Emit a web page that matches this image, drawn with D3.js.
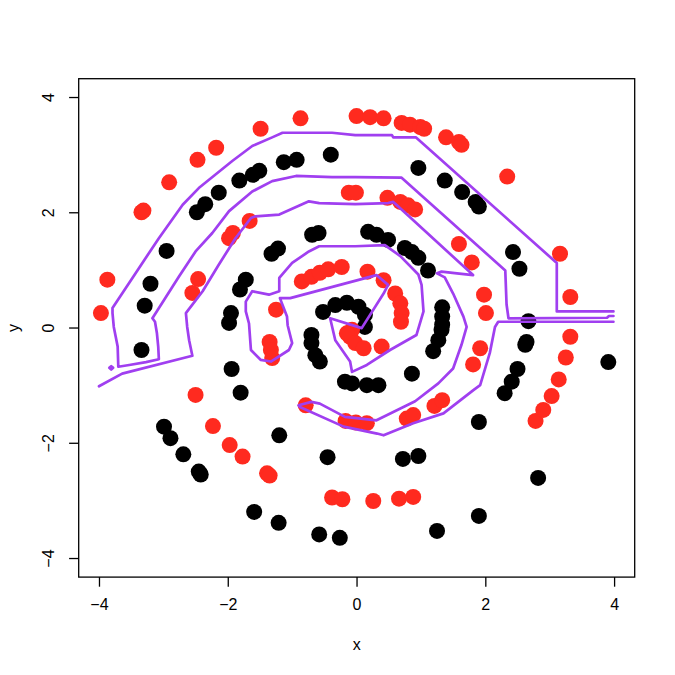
<!DOCTYPE html>
<html>
<head>
<meta charset="utf-8">
<script src="https://cdn.jsdelivr.net/npm/d3@7/dist/d3.min.js"></script>
<style>
    body { margin: 0; background: #ffffff; }
    text { font-family: "Liberation Sans", Arial, Helvetica, sans-serif; }
</style>
</head>
<body>
<div id="chart"></div>
<script>

const xTicks = [-4, -2, 0, 2, 4];
const yTicks = [-4, -2, 0, 2, 4];

// class 0 (black)
const blackPoints = [
    [-0.40, 3.00], [-0.93, 2.91], [-1.13, 2.87], [-1.51, 2.72], [-1.61, 2.65], [-1.82, 2.55],
    [-2.14, 2.34], [-2.35, 2.14], [-2.48, 2.00], [-2.95, 1.33], [-3.20, 0.76], [-3.29, 0.38],
    [-3.34, -0.39], [-0.59, 1.64], [-0.69, 1.61], [-1.22, 1.37], [-1.32, 1.28], [-1.72, 0.83],
    [-1.81, 0.66], [-1.95, 0.25], [-1.98, 0.08], [-1.94, -0.72], [-1.80, -1.13],
    [-2.99, -1.72], [-2.89, -1.92], [-2.69, -2.20], [-2.45, -2.50], [-2.42, -2.55],
    [-1.20, -1.87], [-0.45, -2.25], [-1.59, -3.20], [-1.21, -3.39], [-0.58, -3.59], [-0.26, -3.65],
    [-0.52, 0.27], [-0.33, 0.39], [-0.15, 0.43], [0.03, 0.36], [0.13, 0.22], [0.13, 0.01],
    [-0.70, -0.13], [-0.70, -0.27], [-0.64, -0.48], [-0.57, -0.59],
    [-0.18, -0.94], [-0.07, -0.97], [0.16, -1.00], [0.34, -1.00], [0.86, -0.80],
    [0.72, -2.28], [0.96, -2.23], [1.25, -3.53], [1.90, -3.27], [2.82, -2.61], [1.90, -1.64],
    [2.30, -1.14], [2.41, -0.94], [2.50, -0.72], [2.62, -0.30], [2.64, -0.25], [2.67, 0.11],
    [3.91, -0.60], [2.53, 1.02], [2.43, 1.31], [1.90, 2.10], [1.85, 2.18], [1.64, 2.35],
    [1.37, 2.55], [0.96, 2.77], [0.18, 1.66], [0.31, 1.61], [0.49, 1.52], [0.75, 1.38],
    [0.86, 1.31], [0.96, 1.21], [1.11, 0.99], [1.33, 0.35], [1.33, 0.19], [1.33, 0.05],
    [1.32, -0.04], [1.27, -0.22], [1.19, -0.41]
];

// class 1 (red)
const redPoints = [
    [-1.49, 3.45], [-0.87, 3.63], [0.00, 3.67], [0.21, 3.65], [0.42, 3.63], [0.70, 3.55],
    [0.83, 3.52], [0.99, 3.48], [1.05, 3.45], [1.39, 3.30], [1.59, 3.22], [1.63, 3.17],
    [2.34, 2.62], [3.16, 1.28], [3.32, 0.53], [-2.18, 3.12], [-2.47, 2.91], [-2.91, 2.52],
    [-3.34, 2.00], [-3.31, 2.03], [-3.87, 0.83], [-3.97, 0.25],
    [-0.12, 2.34], [-0.01, 2.34], [-1.66, 1.85], [-1.92, 1.64], [-1.98, 1.55], [-2.46, 0.84],
    [-2.55, 0.60], [-0.85, 0.80], [-0.70, 0.88], [-0.57, 0.95], [-0.44, 1.01], [-0.23, 1.05],
    [-1.25, 0.31], [0.48, 2.25], [0.68, 2.18], [0.80, 2.12], [0.91, 2.05], [1.59, 1.45],
    [1.79, 1.13], [1.98, 0.57], [2.01, 0.25], [0.17, 0.97], [0.42, 0.82], [0.60, 0.59],
    [0.68, 0.42], [0.70, 0.25], [0.69, 0.10],
    [-0.07, -0.04], [-0.10, -0.16], [-0.15, -0.10], [-0.02, -0.27], [0.11, -0.36], [0.39, -0.33],
    [-2.50, -1.17], [-2.23, -1.71], [-1.97, -2.04], [-1.77, -2.24], [-1.39, -2.53], [-1.35, -2.57],
    [-0.38, -2.95], [-0.22, -2.98], [-1.35, -0.25], [-1.33, -0.39], [-1.31, -0.53],
    [-0.79, -1.35], [-0.17, -1.62], [-0.01, -1.65], [0.16, -1.66], [0.78, -1.58], [0.88, -1.52],
    [1.21, -1.36], [1.33, -1.26], [0.26, -3.01], [0.66, -2.97], [0.88, -2.94],
    [1.92, -0.36], [1.81, -0.64], [2.78, -1.62], [2.90, -1.43], [3.03, -1.19], [3.14, -0.90],
    [3.25, -0.52], [3.32, -0.16]
];

// decision boundary (contour level 0.5)
const boundaryOuter = [
    [3.99, 0.28], [3.11, 0.28], [3.11, 1.12], [0.92, 3.30], [0.57, 3.30], [0.55, 3.34],
    [-0.02, 3.34], [-0.38, 3.38], [-1.15, 3.38], [-1.31, 3.30], [-1.62, 3.15], [-1.93, 2.89],
    [-2.45, 2.42], [-2.70, 2.13], [-3.07, 1.55], [-3.38, 1.03], [-3.79, 0.34], [-3.79, 0.25],
    [-3.77, 0.01], [-3.74, -0.16], [-3.71, -0.33], [-3.70, -0.68], [-3.53, -0.65], [-3.27, -0.60],
    [-3.07, -0.55], [-3.08, -0.33], [-3.10, -0.10], [-3.13, 0.10], [-3.17, 0.16], [-2.96, 0.53],
    [-2.76, 0.88], [-2.50, 1.32], [-2.24, 1.64], [-1.98, 2.02], [-1.62, 2.36], [-1.31, 2.54],
    [-0.94, 2.63], [-0.38, 2.61], [-0.02, 2.61], [0.70, 2.60], [2.31, 0.99], [2.33, 0.40],
    [2.36, 0.16], [3.89, 0.17], [3.92, 0.20], [3.99, 0.20]
];

const boundaryMiddle = [
    [3.99, 0.10], [2.20, 0.10], [2.15, 0.01], [2.07, -0.44], [1.92, -1.00], [1.81, -1.09],
    [1.35, -1.49], [0.88, -1.66], [0.42, -1.87], [0.32, -1.84], [-0.20, -1.72], [-0.88, -1.38],
    [-0.90, -1.35], [-0.70, -1.29], [-0.57, -1.32], [-0.18, -1.55], [0.31, -1.61], [0.91, -1.28],
    [1.27, -0.97], [1.50, -0.71], [1.63, -0.30], [1.71, 0.01], [1.66, 0.19], [1.50, 0.59],
    [1.37, 0.87], [1.25, 0.94], [1.32, 0.97], [1.56, 0.94], [1.81, 0.91], [0.64, 2.11],
    [0.57, 2.18], [0.49, 2.16], [-0.02, 2.14], [-0.58, 2.16], [-0.74, 2.19], [-1.20, 1.96],
    [-1.57, 1.93], [-1.64, 1.90], [-1.88, 1.55], [-2.14, 1.09], [-2.39, 0.63], [-2.63, 0.28],
    [-2.65, 0.25], [-2.63, 0.01], [-2.60, -0.22], [-2.55, -0.49], [-3.64, -0.80], [-4.00, -1.02]
];

const boundaryInner = [
    [-0.02, 1.41], [0.44, 1.43], [0.68, 1.24], [0.96, 0.92], [1.01, 0.74], [1.04, 0.28],
    [0.93, -0.13], [0.52, -0.39], [0.16, -0.65], [-0.07, -0.77], [-0.10, -0.59], [-0.33, -0.22],
    [-0.41, 0.16], [0.08, -0.01], [0.42, 0.59], [0.49, 0.74], [0.31, 0.91], [-1.03, 0.51],
    [-1.19, 0.51], [-1.08, 0.19], [-1.07, 0.04], [-1.00, -0.27], [-1.05, -0.39], [-1.33, -0.59],
    [-1.49, -0.56], [-1.64, -0.39], [-1.67, 0.07], [-1.72, 0.28], [-1.72, 0.45], [-1.62, 0.63],
    [-1.36, 0.57], [-1.20, 0.63], [-1.20, 0.86], [-1.00, 1.12], [-0.74, 1.32], [-0.58, 1.41]
];

const boundaryDot = [
    [-3.84, -0.70], [-3.81, -0.67], [-3.78, -0.70], [-3.81, -0.73]
];

const width = 675;
const height = 675;
const plotLeft = 78.7;
const plotRight = 634.7;
const plotTop = 78.7;
const plotBottom = 577.1;

const x = d3.scaleLinear().domain([-4.315, 4.32]).range([plotLeft, plotRight]);
const y = d3.scaleLinear().domain([-4.331, 4.318]).range([plotBottom, plotTop]);

const svg = d3.select("#chart")
    .append("svg")
    .attr("width", width)
    .attr("height", height);

svg.append("rect")
    .attr("width", width)
    .attr("height", height)
    .attr("fill", "#ffffff");

function drawPoints(points, color) {
    svg.append("g")
        .selectAll("circle")
        .data(points)
        .join("circle")
        .attr("cx", d => x(d[0]))
        .attr("cy", d => y(d[1]))
        .attr("r", 8)
        .attr("fill", color);
}

drawPoints(blackPoints, "#000000");
drawPoints(redPoints, "#ff2a1f");

const line = d3.line().x(d => x(d[0])).y(d => y(d[1]));
const loop = d3.line().x(d => x(d[0])).y(d => y(d[1])).curve(d3.curveLinearClosed);

const boundary = svg.append("g")
    .attr("fill", "none")
    .attr("stroke", "#a03ff0")
    .attr("stroke-width", 2.7)
    .attr("stroke-linejoin", "round")
    .attr("stroke-linecap", "round");

boundary.append("path").attr("d", line(boundaryOuter));
boundary.append("path").attr("d", line(boundaryMiddle));
boundary.append("path").attr("d", loop(boundaryInner));
boundary.append("path").attr("d", loop(boundaryDot));

// box
svg.append("rect")
    .attr("x", plotLeft)
    .attr("y", plotTop)
    .attr("width", plotRight - plotLeft)
    .attr("height", plotBottom - plotTop)
    .attr("fill", "none")
    .attr("stroke", "#000000")
    .attr("stroke-width", 1.3);

const xAxis = svg.append("g")
    .attr("transform", `translate(0,${plotBottom})`)
    .call(d3.axisBottom(x).tickValues(xTicks).tickSize(9.6).tickPadding(12.4).tickFormat(d3.format("d")));

const yAxis = svg.append("g")
    .attr("transform", `translate(${plotLeft},0)`)
    .call(d3.axisLeft(y).tickValues(yTicks).tickSize(9.6).tickFormat(d3.format("d")));

[xAxis, yAxis].forEach(a => {
    a.select(".domain").remove();
    a.selectAll(".tick line").attr("stroke", "#000000").attr("stroke-width", 1.3);
    a.selectAll("text")
        .attr("font-size", 16)
        .attr("font-family", "'Liberation Sans', Arial, Helvetica, sans-serif")
        .attr("fill", "#000000");
});

// R style: y labels are turned parallel to the axis
yAxis.selectAll(".tick text")
    .attr("transform", "rotate(-90)")
    .attr("x", 0)
    .attr("y", -25)
    .attr("dy", 0)
    .attr("text-anchor", "middle");

svg.append("text")
    .attr("x", (plotLeft + plotRight) / 2)
    .attr("y", 650)
    .attr("text-anchor", "middle")
    .attr("font-size", 16)
    .text("x");

svg.append("text")
    .attr("transform", `translate(19,${(plotTop + plotBottom) / 2}) rotate(-90)`)
    .attr("text-anchor", "middle")
    .attr("font-size", 16)
    .text("y");

</script>
</body>
</html>
